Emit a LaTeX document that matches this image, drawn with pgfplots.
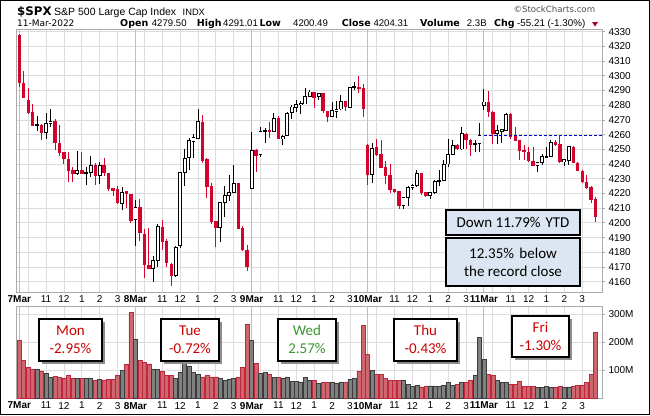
\documentclass[border=0pt]{standalone}
\usepackage{pgfplots}
\pgfplotsset{compat=1.18}
\usepackage{pgfplotstable}
\usepackage{fontspec}
\setmainfont{Liberation Sans}
\newfontfamily\calfont{Carlito}
\newfontfamily\dvfont{DejaVu Sans}
\definecolor{cred}{RGB}{210,4,45}
\definecolor{vred}{RGB}{206,102,112}
\definecolor{vredb}{RGB}{190,40,60}
\definecolor{vgray}{RGB}{128,128,128}
\definecolor{vgrayb}{RGB}{60,60,60}
\definecolor{gridc}{RGB}{220,220,220}
\definecolor{dayc}{RGB}{190,190,190}
\definecolor{framec}{RGB}{170,170,170}
\definecolor{boxblue}{RGB}{220,230,242}
\definecolor{txtred}{RGB}{204,0,0}
\definecolor{txtgreen}{RGB}{60,150,50}
\definecolor{dashblue}{RGB}{0,0,200}

\pgfplotstableread{
k O H L C V u
0 4327.5 4328.5 4292.1 4294.9 206 0
1 4295.3 4303.5 4285.0 4285.1 134 0
2 4283.5 4291.7 4274.0 4274.4 111 0
3 4275.4 4280.8 4265.8 4266.1 104 0
4 4266.5 4272.6 4262.7 4267.0 104 1
5 4266.3 4267.5 4256.3 4261.3 98 0
6 4261.5 4274.9 4257.2 4267.6 89 1
7 4267.6 4277.4 4265.5 4269.2 75 1
8 4269.5 4270.4 4249.5 4254.5 78 0
9 4254.5 4266.5 4245.4 4247.7 76 0
10 4248.1 4248.5 4239.8 4243.2 73 0
11 4243.2 4248.1 4228.0 4235.4 82 0
12 4235.9 4238.2 4228.0 4233.4 73 0
13 4233.4 4248.8 4232.7 4235.7 71 1
14 4235.9 4248.1 4232.9 4233.2 71 0
15 4234.0 4238.2 4225.7 4234.2 71 1
16 4234.5 4245.4 4231.4 4239.1 71 1
17 4239.3 4241.0 4225.5 4232.0 63 0
18 4232.0 4241.4 4226.7 4239.1 67 1
19 4239.1 4244.1 4232.0 4233.7 63 0
20 4233.6 4234.0 4221.6 4223.2 67 0
21 4223.4 4223.8 4218.2 4222.0 67 0
22 4222.7 4225.0 4212.5 4213.2 82 0
23 4213.2 4224.4 4208.9 4220.9 101 1
24 4221.6 4222.0 4209.8 4219.3 122 0
25 4219.4 4219.8 4199.6 4201.4 306 0
26 4202.3 4215.5 4184.6 4210.5 212 1
27 4210.5 4216.0 4187.8 4192.8 134 0
28 4192.4 4195.8 4162.7 4171.7 128 0
29 4171.7 4196.2 4168.5 4168.8 123 0
30 4168.8 4177.6 4159.5 4174.7 105 1
31 4174.2 4199.2 4170.0 4197.3 102 1
32 4197.3 4201.9 4181.5 4186.9 95 0
33 4187.6 4189.0 4169.7 4172.4 81 0
34 4172.0 4172.4 4157.2 4164.0 83 0
35 4164.0 4184.4 4163.5 4183.3 71 1
36 4184.6 4234.3 4182.6 4234.3 93 1
37 4234.3 4250.0 4225.2 4244.1 134 1
38 4244.1 4257.9 4235.9 4256.3 116 1
39 4255.6 4260.4 4244.3 4257.9 93 1
40 4257.4 4277.4 4256.9 4269.0 86 1
41 4268.5 4273.3 4241.0 4242.2 77 0
42 4243.4 4244.0 4217.1 4224.6 82 0
43 4225.2 4226.8 4199.0 4200.5 77 0
44 4201.2 4201.6 4183.7 4196.7 77 0
45 4196.7 4214.0 4186.9 4213.9 70 1
46 4213.9 4225.0 4203.7 4218.9 63 1
47 4218.7 4232.5 4215.2 4220.7 69 1
48 4220.7 4239.1 4220.0 4226.8 71 1
49 4226.8 4227.2 4195.5 4195.8 75 0
50 4196.4 4198.0 4181.2 4181.5 111 0
51 4181.5 4184.9 4167.4 4170.1 264 0
52 4223.4 4261.7 4223.0 4249.3 206 1
53 4249.5 4250.0 4234.8 4245.6 125 0
54 4246.5 4264.9 4244.8 4262.2 89 1
55 4262.2 4264.7 4254.0 4262.9 93 1
56 4263.1 4268.5 4257.4 4261.9 86 0
57 4262.0 4274.5 4261.5 4270.8 75 1
58 4271.0 4272.6 4256.8 4257.2 75 0
59 4257.2 4259.9 4253.1 4258.8 71 1
60 4259.3 4275.6 4258.8 4274.7 77 1
61 4274.7 4280.3 4270.6 4278.8 60 1
62 4278.6 4283.3 4275.4 4280.8 60 1
63 4280.6 4282.6 4274.2 4281.5 59 1
64 4280.8 4291.7 4280.5 4286.0 75 1
65 4286.0 4290.3 4285.5 4289.0 63 1
66 4289.0 4289.3 4278.3 4285.1 65 0
67 4286.0 4288.4 4283.5 4288.1 53 1
68 4288.3 4288.6 4275.0 4275.8 57 0
69 4276.0 4276.3 4268.9 4272.2 57 0
70 4272.2 4282.2 4271.8 4276.5 57 1
71 4276.0 4282.8 4271.0 4277.4 55 1
72 4277.4 4286.9 4277.0 4282.8 59 1
73 4282.8 4283.2 4276.3 4278.5 57 0
74 4278.5 4292.4 4278.1 4292.1 67 1
75 4292.1 4295.5 4290.6 4292.5 70 1
76 4292.5 4299.8 4288.3 4291.4 98 0
77 4291.4 4294.6 4272.2 4277.6 260 0
78 4252.9 4253.3 4225.9 4232.7 158 0
79 4232.7 4254.0 4226.8 4250.6 101 1
80 4251.3 4257.2 4245.8 4246.3 86 0
81 4246.5 4256.6 4237.0 4237.5 86 0
82 4238.0 4241.8 4226.3 4232.1 71 0
83 4232.5 4240.2 4220.1 4222.5 65 0
84 4222.7 4223.0 4220.1 4221.1 65 0
85 4221.4 4221.7 4209.4 4211.6 65 0
86 4211.6 4217.4 4209.4 4217.1 65 1
87 4217.1 4225.0 4211.4 4224.3 49 1
88 4224.2 4226.6 4222.6 4225.7 42 1
89 4225.7 4235.9 4224.5 4233.6 47 1
90 4233.6 4234.0 4218.8 4220.4 41 0
91 4220.7 4221.0 4217.8 4218.4 45 0
92 4218.9 4221.0 4216.0 4220.8 45 1
93 4220.4 4229.3 4219.8 4228.4 45 1
94 4228.4 4235.9 4225.0 4228.9 42 1
95 4228.9 4243.0 4228.5 4240.0 46 1
96 4240.0 4256.9 4238.3 4246.6 57 1
97 4246.6 4256.3 4246.2 4252.9 47 1
98 4252.9 4253.3 4249.7 4250.2 51 0
99 4250.2 4265.1 4249.8 4260.6 57 1
100 4260.6 4261.0 4250.2 4256.3 57 0
101 4256.3 4256.7 4245.6 4253.1 65 0
102 4253.1 4256.6 4248.4 4253.8 83 1
103 4253.8 4268.2 4248.4 4259.7 216 1
104 4279.5 4291.0 4276.7 4282.2 140 1
105 4282.2 4289.6 4272.2 4275.4 86 0
106 4275.4 4275.8 4253.8 4260.6 81 0
107 4260.6 4266.3 4253.8 4262.7 65 1
108 4262.3 4263.8 4254.0 4263.8 57 1
109 4263.1 4274.4 4262.8 4274.0 57 1
110 4274.0 4274.4 4257.0 4258.6 51 0
111 4259.1 4265.4 4255.4 4255.8 49 0
112 4256.3 4256.6 4242.7 4249.0 60 0
113 4249.5 4252.9 4242.7 4248.0 42 0
114 4248.0 4251.8 4241.6 4242.0 42 0
115 4242.0 4251.8 4238.5 4238.8 42 0
116 4238.8 4241.4 4234.8 4241.1 39 1
117 4241.1 4246.6 4239.3 4245.0 39 1
118 4244.7 4251.3 4244.4 4245.1 42 1
119 4245.0 4256.5 4244.6 4254.7 39 1
120 4254.7 4256.3 4252.5 4252.9 39 0
121 4253.6 4259.5 4240.9 4241.6 45 0
122 4241.6 4243.6 4238.4 4243.2 39 1
123 4242.7 4252.3 4239.5 4251.8 41 1
124 4251.8 4252.2 4240.5 4240.9 42 0
125 4240.9 4241.3 4235.0 4235.4 46 0
126 4235.4 4235.8 4226.8 4227.5 46 0
127 4227.5 4232.7 4223.3 4223.7 57 0
128 4224.1 4225.0 4213.7 4215.5 86 0
129 4216.2 4217.8 4200.5 4204.3 234 0
}\data

\pgfplotsset{panel/.style={
  scale only axis, width=585.3pt, xmin=-0.58, xmax=130.42,
  axis line style={draw=framec, line width=0.8pt},
  xtick={2,6,10,14,18,22,28,32,36,40,44,48,54,58,62,66,70,74,80,84,88,92,96,100,106,110,114,118,122,126},
  xticklabels={{},11,12,1,2,3,{},11,12,1,2,3,{},11,12,1,2,3,{},11,12,1,2,3,{},11,12,1,2,3},
  extra x ticks={0,26,52,78,104},
  extra x tick labels={\textbf{7Mar},\textbf{8Mar},\textbf{9Mar},\textbf{10Mar},\textbf{11Mar}},
  extra x tick style={grid style={dayc, line width=1pt}},
  xmajorgrids, ymajorgrids,
  grid style={gridc, line width=0.8pt},
  tick label style={font=\fontsize{10}{12}\selectfont},
  /pgf/number format/assume math mode=true,
  xtick style={draw=none},
  xticklabel style={yshift=3pt},
  ytick pos=right, yticklabel pos=right,
  tick align=outside,
  ytick style={draw=framec, line width=0.8pt}, major tick length=3pt,
  candle/.style={draw=none, mark=none, forget plot,
    error bars/y dir=both, error bars/y explicit, error bars/error mark=none},
}}

\begin{document}
\begin{tikzpicture}[x=1pt,y=-1pt]
\path[use as bounding box] (0,0) rectangle (650,415);

% ---------------- price panel
\begin{axis}[panel, at={(16.7pt,-292pt)}, anchor=south west, height=262.7pt,
  ymin=4153, ymax=4331.6, ytick={4160,4170,...,4330},
  yticklabel style={/pgf/number format/.cd, 1000 sep={}, fixed}]
% red wicks
\addplot[candle, restrict expr to domain={\thisrow{C}-\thisrow{O}}{-1000:-0.001},
  error bars/error bar style={draw=cred, line width=1pt}]
  table[x=k, y expr={(\thisrow{H}+\thisrow{L})/2}, y error expr={(\thisrow{H}-\thisrow{L})/2}] {\data};
% red bodies
\addplot[candle, restrict expr to domain={\thisrow{C}-\thisrow{O}}{-1000:-0.001},
  error bars/error bar style={draw=cred, line width=3.4pt}]
  table[x=k, y expr={(\thisrow{O}+\thisrow{C})/2}, y error expr={abs(\thisrow{O}-\thisrow{C})/2}] {\data};
% black wicks
\addplot[candle, restrict expr to domain={\thisrow{C}-\thisrow{O}}{0:1000},
  error bars/error bar style={draw=black, line width=1pt}]
  table[x=k, y expr={(\thisrow{H}+\thisrow{L})/2}, y error expr={(\thisrow{H}-\thisrow{L})/2}] {\data};
% hollow bodies: outline
\addplot[candle, restrict expr to domain={\thisrow{C}-\thisrow{O}}{0:1000},
  error bars/error bar style={draw=black, line width=3.8pt}]
  table[x=k, y expr={(\thisrow{O}+\thisrow{C})/2}, y error expr={abs(\thisrow{O}-\thisrow{C})/2+0.3}] {\data};
% hollow bodies: inside
\addplot[candle, restrict expr to domain={\thisrow{C}-\thisrow{O}}{0:1000},
  error bars/error bar style={draw=white, line width=2.2pt}]
  table[x=k, y expr={(\thisrow{O}+\thisrow{C})/2}, y error expr={max(abs(\thisrow{O}-\thisrow{C})/2-0.35,0)}] {\data};
% dashed reference line
\addplot[dashblue, dash pattern=on 3pt off 2pt, line width=0.9pt, forget plot]
  coordinates {(104,4259.5) (130.42,4259.5)};
\end{axis}

% ---------------- volume panel
\begin{axis}[panel, at={(16.7pt,-398.5pt)}, anchor=south west, height=92.5pt,
  ymin=0, ymax=328.5, ytick={100,200,300}, yticklabels={100M,200M,300M}]
\addplot[ybar, bar width=4pt, bar shift=0pt, fill=vred, draw=vredb, line width=0.6pt,
  restrict expr to domain={\thisrow{u}}{-0.5:0.5}]
  table[x=k, y=V] {\data};
\addplot[ybar, bar width=4pt, bar shift=0pt, fill=vgray, draw=vgrayb, line width=0.6pt,
  restrict expr to domain={\thisrow{u}}{0.5:1.5}]
  table[x=k, y=V] {\data};
\end{axis}

% ---------------- header
\node[anchor=base west, inner sep=0pt, font=\dvfont\bfseries\fontsize{11.8}{14}\selectfont] at (17,15.5) {\$SPX};
\node[anchor=base west, inner sep=0pt, font=\fontsize{10.5}{12}\selectfont] at (54,15.5) {S\&P 500 Large Cap Index};
\node[anchor=base west, inner sep=0pt, font=\fontsize{9.3}{11}\selectfont] at (182.5,15.5) {INDX};
\node[anchor=base west, inner sep=0pt, font=\dvfont\fontsize{9}{11}\selectfont] at (17,26.3) {11-Mar-2022};
\begin{scope}[every node/.style={anchor=base west, inner sep=0pt}]
\node[font=\dvfont\bfseries\fontsize{9.5}{12}\selectfont] at (120,26.3) {Open};
\node[font=\fontsize{9.6}{12}\selectfont] at (151.7,26.3) {4279.50};
\node[font=\dvfont\bfseries\fontsize{9.5}{12}\selectfont] at (196.7,26.3) {High};
\node[font=\fontsize{9.6}{12}\selectfont] at (223,26.3) {4291.01};
\node[font=\dvfont\bfseries\fontsize{9.5}{12}\selectfont] at (259.3,26.3) {Low};
\node[font=\fontsize{9.6}{12}\selectfont] at (293,26.3) {4200.49};
\node[font=\dvfont\bfseries\fontsize{9.5}{12}\selectfont] at (341.7,26.3) {Close};
\node[font=\fontsize{9.6}{12}\selectfont] at (373.3,26.3) {4204.31};
\node[font=\dvfont\bfseries\fontsize{9.5}{12}\selectfont] at (420,26.3) {Volume};
\node[font=\fontsize{9.6}{12}\selectfont] at (466.7,26.3) {2.3B};
\node[font=\dvfont\bfseries\fontsize{9.5}{12}\selectfont] at (494,26.3) {Chg};
\node[font=\fontsize{9.8}{12}\selectfont] at (517,26.3) {-55.21 (-1.30\%)};
\end{scope}
\fill[cred!80!black] (592,22) -- (598,22) -- (595,26.5) -- cycle;
\node[anchor=base west, inner sep=0pt, text=black!70, font=\dvfont\fontsize{8.6}{10}\selectfont] at (513.3,12.3) {\textcopyright StockCharts.com};

% ---------------- price annotation boxes
\draw[line width=1.2pt, fill=boxblue] (446,210) rectangle (580,235);
\node[font=\calfont\fontsize{15}{18}\selectfont] at (513,222.5) {Down 11.79\%\hspace{1.5pt} YTD};
\draw[line width=1.2pt, fill=boxblue] (446,238) rectangle (580,286);
\node[font=\calfont\fontsize{15}{18}\selectfont] at (513,253) {12.35\%\hspace{2pt} below};
\node[font=\calfont\fontsize{15}{18}\selectfont] at (513,271) {the record close};

% ---------------- volume annotation boxes
\newcommand{\annbox}[7]{%
  \fill[black!45] (#1+2.5,#2+2.5) rectangle (#3+2.5,#4+2.5);
  \draw[line width=1.3pt, fill=white] (#1,#2) rectangle (#3,#4);
  \node[text=#5, font=\calfont\fontsize{15}{18}\selectfont] at ({(#1+#3)/2},#2+11.5) {#6};
  \node[text=#5, font=\calfont\fontsize{15}{18}\selectfont] at ({(#1+#3)/2},#2+29.5) {#7};
}
\annbox{39}{319}{102}{361}{txtred}{Mon}{-2.95\%}
\annbox{161}{319}{219}{361}{txtred}{Tue}{-0.72\%}
\annbox{278}{319}{336}{361}{txtgreen}{Wed}{2.57\%}
\annbox{394}{319}{457}{361}{txtred}{Thu}{-0.43\%}
\annbox{512}{316}{569}{357}{txtred}{Fri}{-1.30\%}

% ---------------- outer frame
\draw[line width=1.4pt] (0.7,0.7) rectangle (649.3,414.3);
\end{tikzpicture}
\end{document}
